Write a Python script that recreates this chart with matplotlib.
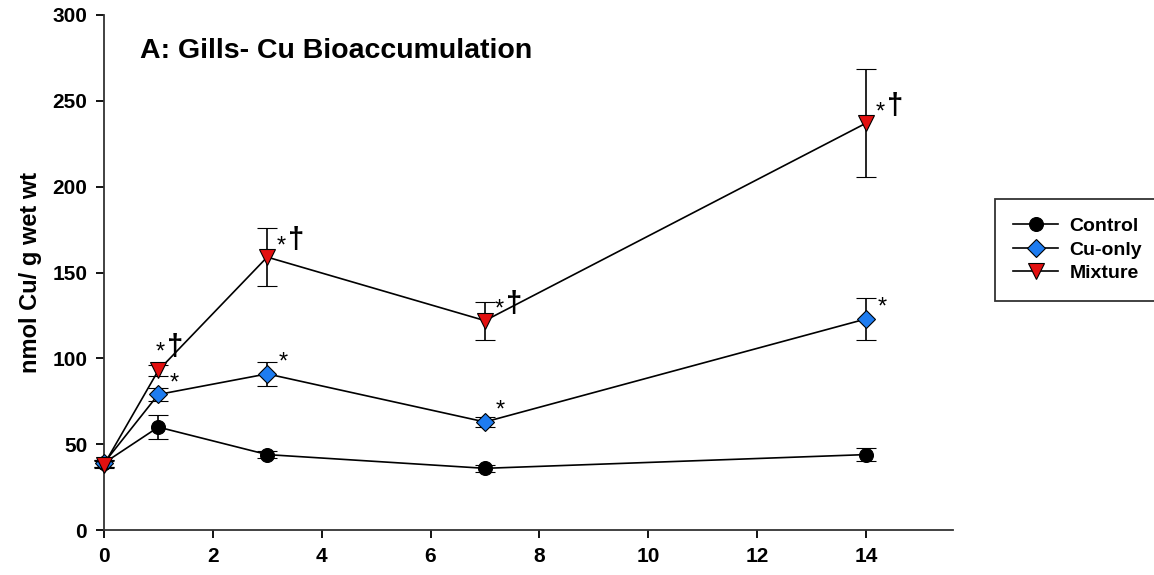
import matplotlib.pyplot as plt
from matplotlib.lines import Line2D

plt.rcParams['font.family'] = ['Liberation Sans', 'DejaVu Sans']

# Data
days = [0, 1, 3, 7, 14]
control = [39, 60, 44, 36, 44]
control_err = [2, 7, 2, 2, 4]
cu_only = [39, 79, 91, 63, 123]
cu_only_err = [2, 4, 7, 3, 12]
mixture = [38, 93, 159, 122, 237]
mixture_err = [2, 3, 17, 11, 31.5]

yticks = [0, 50, 100, 150, 200, 250, 300]
xticks = [0, 2, 4, 6, 8, 10, 12, 14]

fig = plt.figure(figsize=(11.54, 5.75), dpi=100)
ax = fig.add_axes([0.090, 0.078, 0.736, 0.896])

styles = [
    ('Control', control, control_err, 'o', 'black', 10),
    ('Cu-only', cu_only, cu_only_err, 'D', '#1e7cf0', 9),
    ('Mixture', mixture, mixture_err, 'v', '#e31010', 11),
]
handles = []
for z, (name, vals, err, mk, fc, ms) in enumerate(styles):
    ax.errorbar(days, vals, yerr=err, fmt='-' + mk, color='black', lw=1.2,
                ecolor='black', elinewidth=1.2, capsize=7, capthick=1.2,
                markerfacecolor=fc, markeredgecolor='black', markeredgewidth=0.8,
                markersize=ms, zorder=3 + z, clip_on=False)
    handles.append(Line2D([0], [0], color='black', lw=1.2, marker=mk, markerfacecolor=fc,
                          markeredgecolor='black', markeredgewidth=0.8, markersize=ms, label=name))

# significance marks
for i in [1, 2, 3, 4]:
    ax.annotate('*', (days[i], cu_only[i]), xytext=(8, 0), textcoords='offset points',
                fontsize=17, va='bottom', ha='left')
mix_offsets = {1: (-2, 5), 2: (7, 0), 3: (7, 0), 4: (7, 0)}
for i, (dx, dy) in mix_offsets.items():
    ax.annotate('*', (days[i], mixture[i]), xytext=(dx, dy), textcoords='offset points',
                fontsize=17, va='bottom', ha='left')
    ax.annotate('\u2020', (days[i], mixture[i]), xytext=(dx + 8, dy + 2), textcoords='offset points',
                fontsize=21, fontweight='bold', va='bottom', ha='left')

ax.set_xlim(0, 15.6)
ax.set_ylim(0, 300)
ax.set_xticks(xticks)
ax.set_yticks(yticks)
ax.spines['top'].set_visible(False)
ax.spines['right'].set_visible(False)
for s in ['left', 'bottom']:
    ax.spines[s].set_linewidth(1.3)
    ax.spines[s].set_color('#333333')
ax.tick_params(direction='out', length=6, width=1.3, labelsize=15, pad=6)
for lbl in ax.get_xticklabels() + ax.get_yticklabels():
    lbl.set_fontweight('bold')

ax.set_ylabel('nmol Cu/ g wet wt', fontsize=17, fontweight='bold', labelpad=7)
ax.text(0.043, 0.955, 'A: Gills- Cu Bioaccumulation', transform=ax.transAxes,
        fontsize=20.5, fontweight='bold', va='top', ha='left')

leg = ax.legend(handles=handles, loc='center left', bbox_to_anchor=(1.049, 0.544), frameon=True,
                fancybox=False, edgecolor='black', prop={'weight': 'bold', 'size': 14},
                borderpad=0.95, handlelength=2.3, handletextpad=0.6, labelspacing=0.3,
                borderaxespad=0)
leg.get_frame().set_linewidth(1.3)

fig.savefig('out.png', dpi=100)
